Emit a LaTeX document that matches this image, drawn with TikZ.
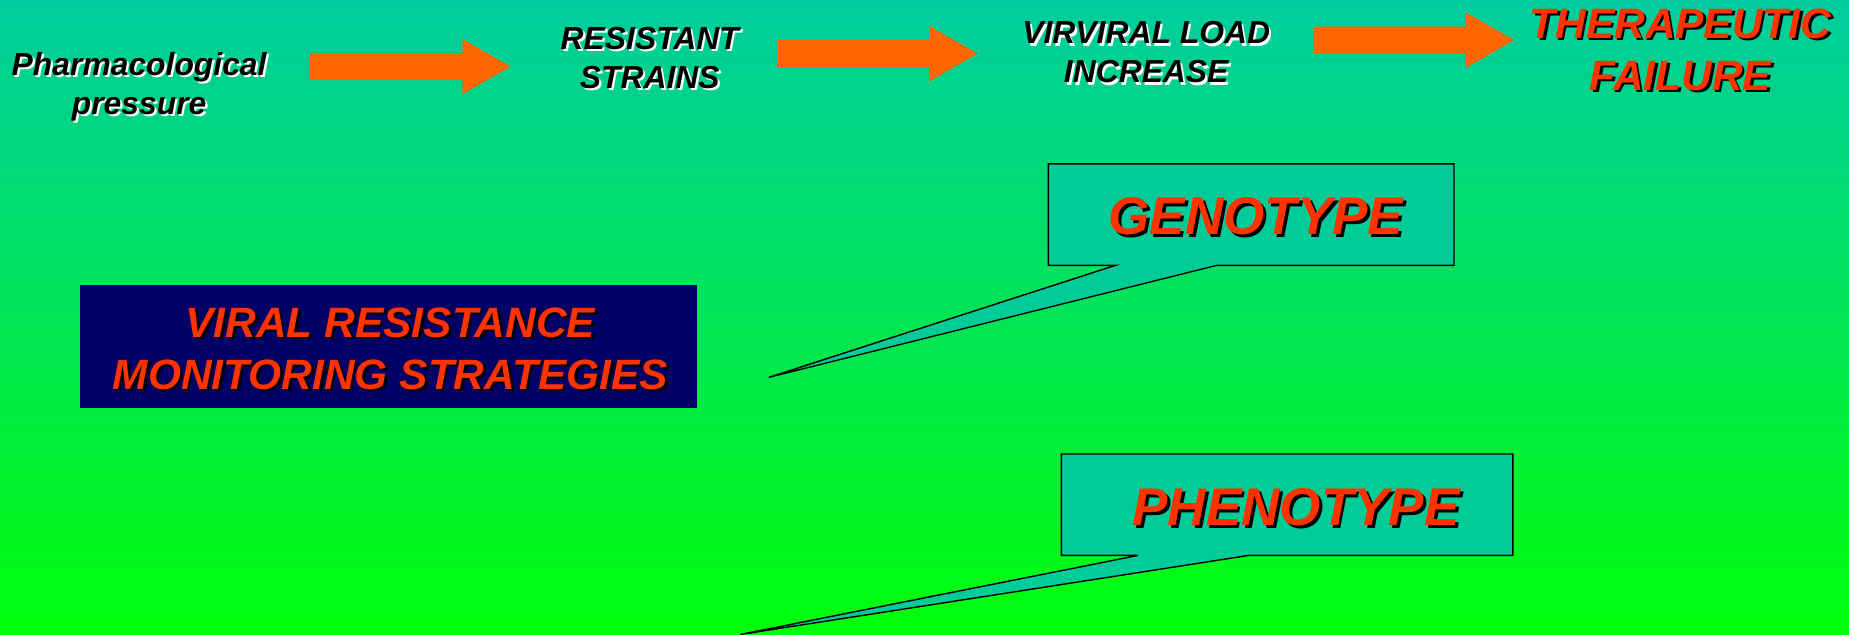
\documentclass[tikz,border=0pt]{standalone}
\usepackage{fontspec}
\setmainfont{Liberation Sans}
\usetikzlibrary{calc}

\definecolor{slidetop}{RGB}{0,204,160}
\definecolor{slidebottom}{RGB}{0,255,10}
\definecolor{arroworange}{RGB}{255,102,0}
\definecolor{alertred}{RGB}{255,51,0}
\definecolor{calloutteal}{RGB}{0,204,153}
\definecolor{navybox}{RGB}{0,0,102}

% text with a drop shadow: name, position, size style, colour, shadow colour, offset, text
\newcommand\shadowed[7]{%
  \node[#3,text=#5] (#1-sh) at ($(#2)+(#6,#6)$) {#7};
  \node[#3,text=#4] (#1) at (#2) {#7};}

% orange block arrow between two named coordinates
\newcommand\blockarrow[2]{%
  \fill[arroworange] let \p1=(#1), \p2=(#2) in
    (\x1,\y1-11.5pt) -- (\x2-41pt,\y1-11.5pt) -- (\x2-41pt,\y1-23.5pt) -- (\x2,\y1)
    -- (\x2-41pt,\y1+23.5pt) -- (\x2-41pt,\y1+11.5pt) -- (\x1,\y1+11.5pt) -- cycle;}

\begin{document}
\begin{tikzpicture}[x=1pt,y=-1pt,
  every node/.style={inner sep=0pt,align=center},
  smalltext/.style={font=\fontsize{27}{33}\selectfont\bfseries\itshape},
  bigtext/.style={font=\fontsize{36}{44}\selectfont\bfseries\itshape},
  calltext/.style={font=\fontsize{45}{54}\selectfont\bfseries\itshape},
  callout/.style={fill=calloutteal,draw=black,line width=1.2pt,line join=miter}]

% background
\useasboundingbox (0,0) rectangle (1568,538);
\shade[top color=slidetop,bottom color=slidebottom] (0,0) rectangle (1568,538);

% chain of consequences
\shadowed{pharm}{118,73.5}{smalltext}{black}{white}{1.8}{Pharmacological\\pressure}
\shadowed{strains}{551,49}{smalltext}{black}{white}{1.8}{RESISTANT\\STRAINS}
\shadowed{load}{972,44.5}{smalltext}{black}{white}{1.8}{VIRVIRAL LOAD\\INCREASE}
\shadowed{failure}{1425,42}{bigtext}{alertred}{black}{2.2}{THERAPEUTIC\\FAILURE}

\coordinate (a1s) at (263,56.5); \coordinate (a1e) at (433,56.5);
\coordinate (a2s) at (659,45.5); \coordinate (a2e) at (829,45.5);
\coordinate (a3s) at (1114,34); \coordinate (a3e) at (1284,34);
\blockarrow{a1s}{a1e}
\blockarrow{a2s}{a2e}
\blockarrow{a3s}{a3e}

% title box
\node[fill=navybox,minimum width=523pt,minimum height=104pt] (vrbox) at (329.5,294) {};
\shadowed{vrtext}{331,295.5}{bigtext}{alertred}{black}{2.2}{VIRAL RESISTANCE\\MONITORING STRATEGIES}

% genotype callout
\coordinate (gnw) at (889,139);
\coordinate (gse) at (1233,225);
\coordinate (gtip) at (652,320);
\draw[callout] (gnw) -| (gse) -- (1032,225) -- (gtip) -- (946,225) -- (889,225) -- cycle;
\shadowed{geno}{1065,183}{calltext}{alertred}{black}{2.5}{GENOTYPE}

% phenotype callout
\coordinate (pnw) at (900,385);
\coordinate (pse) at (1283,471);
\coordinate (ptip) at (628,538);
\draw[callout] (pnw) -| (pse) -- (1059,471) -- (ptip) -- (965,471) -- (900,471) -- cycle;
\shadowed{pheno}{1099,430}{calltext}{alertred}{black}{2.5}{PHENOTYPE}

\end{tikzpicture}
\end{document}
